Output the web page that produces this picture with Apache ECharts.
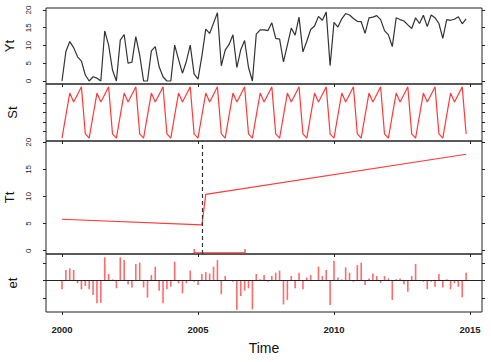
<!DOCTYPE html>
<html>
<head>
<meta charset="utf-8">
<script src="https://cdn.jsdelivr.net/npm/echarts@6/dist/echarts.min.js"></script>
<style>
html,body{margin:0;padding:0;background:#fff;}
#chart{width:491px;height:362px;}
</style>
</head>
<body>
<div id="chart"></div>
<script>
// ---- data ----
const startYear = 2000;
const freq = 7; // observations per year
const xTickLabels = [2000, 2005, 2010, 2015];
const panelNames = ['Yt', 'St', 'Tt', 'et'];

const yt = [0,8.3,11.1,9.4,6.8,5.6,1.7,0,1.2,0.8,
  0,14.1,10.1,3.1,0,11.5,13.1,5.0,5.3,12.5,
  7.3,0,0,8.5,9.7,4.0,1.2,0,0,10.1,
  6.0,2.2,5.5,10.1,2.0,0.5,7.0,14.6,13.4,16.3,
  19.2,4.3,8.7,10.3,13.0,3.8,8.8,11.4,3.8,0,
  13.2,14.4,14.4,14.2,16.4,12.0,11.8,5.4,10.1,14.9,
  12.9,18.0,8.2,11.2,14.5,15.5,18.2,17.1,19.4,4.3,
  16.5,15.2,17.5,19.0,18.6,17.6,16.8,16.7,13.4,17.8,
  18.0,18.4,17.3,14.2,13.0,9.7,17.8,17.3,16.9,15.8,
  14.8,17.8,16.2,18.5,15.3,18.6,17.8,16.2,12.0,17.3,
  17.1,17.4,18.1,16.1,17.5];

const st = [
  -5.4,-0.6,4.1,2.2,3.8,5.4,-4.5,
  -5.4,-0.6,4.1,2.2,3.8,5.4,-4.5,
  -5.4,-0.6,4.1,2.2,3.8,5.4,-4.5,
  -5.4,-0.6,4.1,2.2,3.8,5.4,-4.5,
  -5.4,-0.6,4.1,2.2,3.8,5.4,-4.5,
  -5.4,-0.6,4.1,2.2,3.8,5.4,-4.5,
  -5.4,-0.6,4.1,2.2,3.8,5.4,-4.5,
  -5.4,-0.6,4.1,2.2,3.8,5.4,-4.5,
  -5.4,-0.6,4.1,2.2,3.8,5.4,-4.5,
  -5.4,-0.6,4.1,2.2,3.8,5.4,-4.5,
  -5.4,-0.6,4.1,2.2,3.8,5.4,-4.5,
  -5.4,-0.6,4.1,2.2,3.8,5.4,-4.5,
  -5.4,-0.6,4.1,2.2,3.8,5.4,-4.5,
  -5.4,-0.6,4.1,2.2,3.8,5.4,-4.5,
  -5.4,-0.6,4.1,2.2,3.8,5.4,-4.5];

// trend: segment end points (observation index, value)
const ttIndex = [0, 36, 37, 104];
const ttValue = [5.8, 4.75, 10.4, 17.8];
const breakIndex = 36;
const breakCI = [2004.86, 2006.73];

const et = [-0.5,0.62,0.71,0.62,-0.15,-0.5,-0.31,-0.5,-0.83,-1.31,
  -1.27,1.35,0.39,0.08,-0.44,1.35,1.19,-0.21,-0.39,0.96,
  1.04,-0.39,-0.98,0.33,0.81,-0.58,-1.31,-0.5,-0.35,1.1,
  -0.15,-0.73,-0.15,0.58,-0.06,-0.25,0.39,0.5,0.42,0.81,
  1.19,-0.79,0.27,0.02,-0.06,-1.7,-0.89,-0.58,-0.44,-1.66,
  0.39,0.08,0.33,-0.06,0.27,0.46,0.58,-1.37,-1.12,0.27,
  -0.44,0.46,-0.5,0.19,0.33,0.03,0.81,0.27,0.62,-1.41,
  1.16,0.19,0.08,0.77,0.46,-0.06,0.9,1.04,-0.25,0.13,
  0.42,0.27,-0.12,0.27,0.13,-1.12,0.08,0.13,-0.21,-0.64,
  0.27,0.96,0.02,-0.06,-0.5,-0.06,-0.35,0.39,-0.39,0.08,
  -0.5,-0.15,-0.35,-0.96,0.46];

const ytTicks = [0, 5, 10, 15, 20];
const stTicks = [-4, -2, 0, 2, 4];
const ttTicks = [0, 5, 10, 15, 20];
const etTicks = [-1, 0, 1];

// ---- build ----
const tOf = i => startYear + i / freq;
const pairs = arr => arr.map((v, i) => [tOf(i), v]);

const FONT = 'Liberation Sans, Arial, sans-serif';
const XMIN = 1999.412, XMAX = 2015.441;
const L = 46, R = 9;
const panels = [
  {top: 8,   height: 76,  min: -0.845, max: 20.56, ticks: ytTicks, labels: true},
  {top: 84,  height: 57,  min: -6,     max: 6,     ticks: stTicks, labels: false},
  {top: 141, height: 113, min: -0.61,  max: 20.24, ticks: ttTicks, labels: true},
  {top: 254, height: 58,  min: -1.81,  max: 1.543, ticks: etTicks, labels: false}
];

const grid = panels.map(p => ({left: L, right: R, top: p.top, height: p.height,
  containLabel: false, outerBoundsMode: 'none',
  show: true, borderColor: '#222', borderWidth: 1, backgroundColor: 'transparent'}));

const xAxis = panels.map((p, k) => ({
  type: 'value', gridIndex: k, min: XMIN, max: XMAX,
  axisLine: {show: false, onZero: false},
  axisTick: {show: true, length: 3, lineStyle: {color: '#222'}, customValues: xTickLabels},
  axisLabel: {show: k === 3, customValues: xTickLabels, margin: 12, fontSize: 9.5,
    fontWeight: 'bold', color: '#222', fontFamily: FONT, formatter: v => String(v)},
  splitLine: {show: false},
  name: k === 3 ? 'Time' : '', nameLocation: 'middle', nameGap: 29,
  nameTextStyle: {fontSize: 14, color: '#111', fontFamily: 'Liberation Sans Narrow, ' + FONT}
}));

const yAxis = [];
panels.forEach((p, k) => {
  yAxis.push({
    type: 'value', gridIndex: k, min: p.min, max: p.max, position: 'left',
    axisLine: {show: false, onZero: false},
    axisTick: {show: true, length: 3, lineStyle: {color: '#222'}, customValues: p.ticks},
    axisLabel: {show: p.labels, customValues: p.ticks, rotate: 90, margin: 14, fontSize: 8,
      color: '#222', fontFamily: FONT},
    splitLine: {show: false},
    name: panelNames[k], nameLocation: 'middle', nameRotate: 90, nameGap: 27,
    nameTextStyle: {fontSize: 13, color: '#111', fontFamily: 'Liberation Sans Narrow, ' + FONT}
  });
});
panels.forEach((p, k) => {
  yAxis.push({
    type: 'value', gridIndex: k, min: p.min, max: p.max, position: 'right',
    axisLine: {show: false, onZero: false},
    axisTick: {show: true, length: 3, lineStyle: {color: '#222'}, customValues: p.ticks},
    axisLabel: {show: false},
    splitLine: {show: false}
  });
});

const RED = '#ff3a3a';
const series = [
  {type: 'line', xAxisIndex: 0, yAxisIndex: 0, data: pairs(yt), showSymbol: false,
   lineStyle: {color: '#333', width: 1.2}, silent: true},
  {type: 'line', xAxisIndex: 1, yAxisIndex: 1, data: pairs(st), showSymbol: false,
   lineStyle: {color: RED, width: 1.2}, silent: true},
  {type: 'line', xAxisIndex: 2, yAxisIndex: 2,
   data: ttIndex.map((i, j) => [tOf(i), ttValue[j]]), showSymbol: false,
   lineStyle: {color: RED, width: 1.2}, silent: true,
   markLine: {symbol: 'none', silent: true, label: {show: false},
     lineStyle: {color: '#333', type: [4, 3], width: 1.2},
     data: [{xAxis: tOf(breakIndex)}]}},
  {type: 'line', xAxisIndex: 2, yAxisIndex: 2,
   data: [[breakCI[0], 0.3], [breakCI[0], -0.38], [breakCI[1], -0.38], [breakCI[1], 0.3]],
   showSymbol: false, lineStyle: {color: RED, width: 1.2}, silent: true},
  {type: 'bar', xAxisIndex: 3, yAxisIndex: 3, data: pairs(et), barWidth: 1.6,
   itemStyle: {color: '#ff6a6a'}, silent: true,
   markLine: {symbol: 'none', silent: true, label: {show: false},
     lineStyle: {color: '#222', type: 'solid', width: 1},
     data: [{yAxis: 0}]}}
];

const chart = echarts.init(document.getElementById('chart'), null, {renderer: 'svg'});
chart.setOption({animation: false, backgroundColor: '#fff', grid, xAxis, yAxis, series});
</script>
</body>
</html>
